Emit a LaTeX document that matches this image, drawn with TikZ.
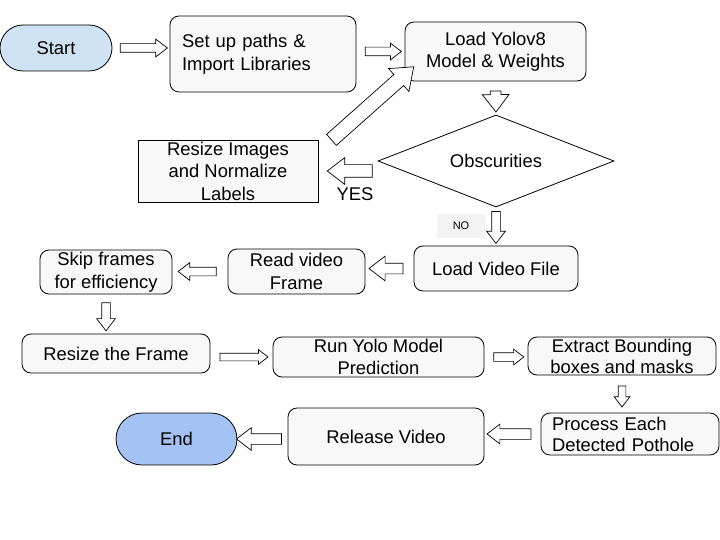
\documentclass[tikz,border=0pt]{standalone}
\usepackage{fontspec}
\setmainfont{Liberation Sans}
\usetikzlibrary{shapes.geometric, shapes.misc, shapes.arrows, calc}

\definecolor{startblue}{HTML}{CFE2F3}
\definecolor{endblue}{HTML}{A4C2F4}
\definecolor{boxfill}{HTML}{F8F8F8}
\definecolor{nofill}{HTML}{F3F3F3}

\begin{document}
\begin{tikzpicture}[x=1pt, y=-1pt, line width=0.8pt,
    font=\fontsize{18.4}{22.5}\selectfont,
    box/.style={draw, rectangle, rounded corners=9pt, fill=boxfill, align=center, inner sep=0pt},
    term/.style={draw, rounded rectangle, inner sep=0pt},
    blockarr/.style n args={3}{single arrow, draw, fill=white, line width=0.7pt, inner xsep=0pt,
        inner ysep=#2, sloped, allow upside down, minimum height=#1,
        single arrow head extend=#3, single arrow tip angle=75}]
    \useasboundingbox (0,0) rectangle (720,540);

    % top row
    \node[term, fill=startblue, minimum width=112pt, minimum height=46pt] (start) at (56,48) {Start};
    \node[box, text width=162pt, inner xsep=12pt, minimum height=76pt, align=left] (setup) at (263,54) {Set up paths \&\\Import Libraries};
    \node[box, minimum width=181pt, minimum height=59pt] (load) at (495.5,51.5) {Load Yolov8\\Model \& Weights};

    % decision
    \node[draw, diamond, fill=white, aspect=2.5, inner sep=0pt, minimum width=236pt, minimum height=92pt] (obs) at (496,161) {Obscurities};
    \node[draw, rectangle, fill=boxfill, align=center, inner sep=0pt, minimum width=180pt, minimum height=62pt] (resize) at (228,171) {Resize Images\\and Normalize\\Labels};
    \node (yes) at (355,194) {YES};
    \node[fill=nofill, inner sep=0pt, minimum width=48pt, minimum height=23pt, font=\fontsize{11}{13}\selectfont] (no) at (461,226) {NO};

    % video loop
    \node[box, minimum width=164pt, minimum height=45pt] (loadvid) at (496,268.5) {Load Video File};
    \node[box, minimum width=137pt, minimum height=45pt] (read) at (296.5,271.5) {Read video\\Frame};
    \node[box, minimum width=132pt, minimum height=44pt] (skip) at (106,272) {Skip frames\\for efficiency};
    \node[box, minimum width=188pt, minimum height=39pt] (resizef) at (116,353.5) {Resize the Frame};
    \node[box, minimum width=211pt, minimum height=40pt] (run) at (378.5,357) {Run Yolo Model\\Prediction};
    \node[box, minimum width=188pt, minimum height=38pt, font=\fontsize{18.4}{21}\selectfont] (extract) at (622,356) {Extract Bounding\\boxes and masks};
    \node[box, text width=156pt, inner xsep=11pt, minimum height=42pt, align=left, font=\fontsize{18.4}{21}\selectfont] (process) at (630,434) {Process Each\\Detected Pothole};
    \node[box, minimum width=196pt, minimum height=57pt] (release) at (386,436.5) {Release Video};
    \node[term, fill=endblue, minimum width=121pt, minimum height=52pt] (end) at (176.5,439) {End};

    % block arrows
    \path (start.east) -- node[blockarr={47pt}{4pt}{4.5pt}] {} (start.east -| setup.west);
    \path (load.west -| setup.east) -- node[blockarr={36pt}{4pt}{4pt}] {} (load.west);
    \path (load.south) -- node[blockarr={21pt}{5pt}{8pt}] {} (obs.north);
    \path (resize.east -| obs.west) -- node[pos=0.4, blockarr={45pt}{6pt}{7pt}] {} (resize.east);
    \path ($(resize.north east)+(10,3)$) -- node[blockarr={110pt}{7pt}{8pt}] {} ($(load.south west)+(5,-11)$);
    \path (obs.south) -- node[pos=0.45, blockarr={32pt}{4pt}{5pt}] {} (loadvid.north);
    \path (loadvid.west) -- node[blockarr={34pt}{5pt}{7pt}] {} (loadvid.west -| read.east);
    \path (read.west) -- node[blockarr={38pt}{4pt}{4.5pt}] {} (read.west -| skip.east);
    \path (skip.south) -- node[blockarr={28pt}{4pt}{5pt}] {} (skip.south |- resizef.north);
    \path (run.west -| resizef.east) -- node[blockarr={48pt}{3.5pt}{3.5pt}] {} (run.west);
    \path (run.east) -- node[blockarr={30pt}{4pt}{3.5pt}] {} (run.east -| extract.west);
    \path (extract.south) -- node[blockarr={21pt}{3.5pt}{4pt}] {} (extract.south |- process.north);
    \path (process.west) -- node[blockarr={44pt}{5pt}{4.5pt}] {} (process.west -| release.east);
    \path (end.east -| release.west) -- node[blockarr={45pt}{5pt}{6pt}] {} (end.east);
\end{tikzpicture}
\end{document}
